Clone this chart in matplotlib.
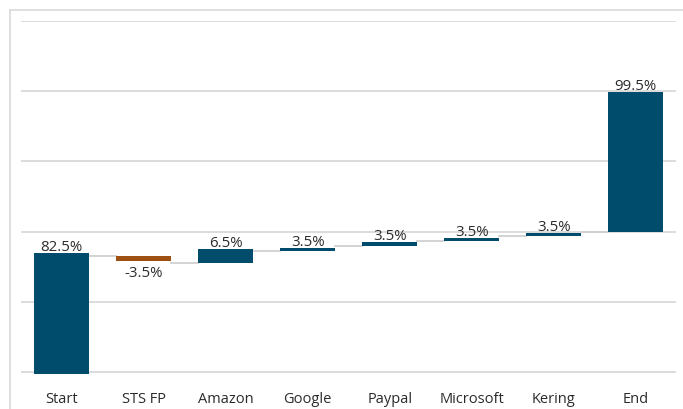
import matplotlib.pyplot as plt
from matplotlib.lines import Line2D

# categories and labels as printed on the chart
categories = ['Start', 'STS FP', 'Amazon', 'Google', 'Paypal', 'Microsoft', 'Kering', 'End']
value_labels = ['82.5%', '-3.5%', '6.5%', '3.5%', '3.5%', '3.5%', '3.5%', '99.5%']

# bar extents as drawn (axis units, gridlines every 20)
bar_start = [-0.5, 33.0, 31.0, 34.6, 35.9, 37.4, 38.8, 39.8]
bar_end = [33.85, 31.7, 35.0, 35.3, 37.0, 38.1, 39.5, 79.6]

blue = '#004c6d'
orange = '#9e4f12'
grid_col = '#d9d9d9'
text_col = '#2b2b2b'

plt.rcParams['font.family'] = ['Open Sans', 'DejaVu Sans']

fig = plt.figure(figsize=(6.83, 4.09), dpi=100)
ax = fig.add_axes([0.0303, 0.0812, 0.9595, 0.8682])

x = list(range(len(categories)))
bottoms = [min(s, e) for s, e in zip(bar_start, bar_end)]
heights = [abs(e - s) for s, e in zip(bar_start, bar_end)]
colors = [orange if e < s else blue for s, e in zip(bar_start, bar_end)]
width = 0.67

ax.bar(x, heights, bottom=bottoms, width=width, color=colors, zorder=3)

# connector lines between bars
for i in range(len(x) - 1):
    lvl = bar_start[i + 1]
    ax.plot([x[i] + width / 2, x[i + 1] - width / 2], [lvl, lvl],
            color='#d0d0d0', lw=1.3, zorder=2)

# value labels
for i, lab in enumerate(value_labels):
    if bar_end[i] < bar_start[i]:
        ax.annotate(lab, (x[i], bar_end[i]), xytext=(0, -4), textcoords='offset points',
                    ha='center', va='top', fontsize=10.8, color=text_col)
    else:
        ax.annotate(lab, (x[i], max(bar_start[i], bar_end[i])), xytext=(0, 1.5),
                    textcoords='offset points', ha='center', va='baseline',
                    fontsize=10.8, color=text_col)

ax.set_xlim(-0.5, 7.49)
ax.set_ylim(-1, 100)
ax.set_yticks([0, 20, 40, 60, 80, 100])
ax.set_yticklabels([])
ax.set_xticks(x)
ax.set_xticklabels(categories, fontsize=10.5, color=text_col)
ax.tick_params(axis='both', length=0)
ax.tick_params(axis='x', pad=11.5)
ax.grid(axis='y', color=grid_col, lw=1.3, zorder=0)
for s in ax.spines.values():
    s.set_visible(False)

# outer chart border (runs off the right and bottom of the image)
fig.add_artist(Line2D([0.0146, 0.0146], [0, 0.9756], color=grid_col, lw=1.2))
fig.add_artist(Line2D([0.0146, 1], [0.9756, 0.9756], color=grid_col, lw=1.2))

fig.savefig('out.png', dpi=100)
